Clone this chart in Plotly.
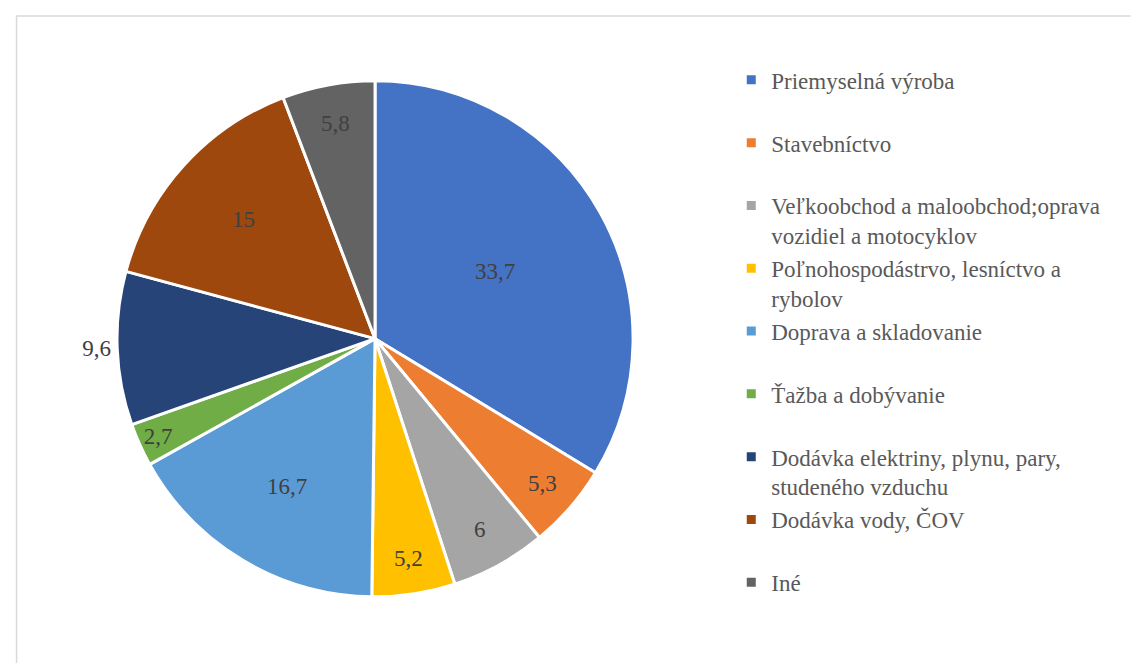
import plotly.graph_objects as go

labels = [
    "Priemyselná výroba",
    "Stavebníctvo",
    "Veľkoobchod a maloobchod;oprava<br>vozidiel a motocyklov",
    "Poľnohospodástrvo, lesníctvo a<br>rybolov",
    "Doprava a skladovanie",
    "Ťažba a dobývanie",
    "Dodávka elektriny, plynu, pary,<br>studeného vzduchu",
    "Dodávka vody, ČOV",
    "Iné",
]
values = [33.7, 5.3, 6, 5.2, 16.7, 2.7, 9.6, 15, 5.8]
colors = ["#4472C4", "#ED7D31", "#A5A5A5", "#FFC000", "#5B9BD5",
          "#70AD47", "#264478", "#9E480E", "#636363"]

SERIF = "Liberation Serif, Times New Roman, serif"

# Excel-style labels with decimal comma
value_text = [f"{v:g}".replace(".", ",") for v in values]
text_pos = ["inside"] * len(values)
text_pos[6] = "outside"

# pad one-line legend entries so every entry takes two lines
legend_labels = [lab if "<br>" in lab else lab + "<br> " for lab in labels]

fig = go.Figure()
fig.add_trace(go.Pie(
    labels=legend_labels,
    values=values,
    text=value_text,
    textinfo="text",
    textposition=text_pos,
    insidetextorientation="horizontal",
    textfont=dict(family=SERIF, size=23, color="#404040"),
    marker=dict(colors=colors, line=dict(color="white", width=3)),
    sort=False,
    direction="clockwise",
    rotation=0,
    hoverinfo="label+value",
    domain=dict(x=[0.0957, 0.5488], y=[0.1115, 0.891]),
))

fig.update_layout(
    width=1139,
    height=663,
    paper_bgcolor="white",
    margin=dict(l=0, r=0, t=0, b=0),
    font=dict(family=SERIF, size=22, color="#595959"),
    legend=dict(
        x=0.635, y=0.924, xanchor="left", yanchor="top",
        font=dict(family=SERIF, size=23, color="#595959"),
        itemwidth=30,
        valign="top",
        traceorder="normal",
    ),
    shapes=[dict(
        type="rect", xref="paper", yref="paper",
        x0=0.0075, x1=1.01, y0=-0.01, y1=0.988,
        line=dict(color="#D9D9D9", width=1.5),
    )],
)

fig.write_html("out.html")
